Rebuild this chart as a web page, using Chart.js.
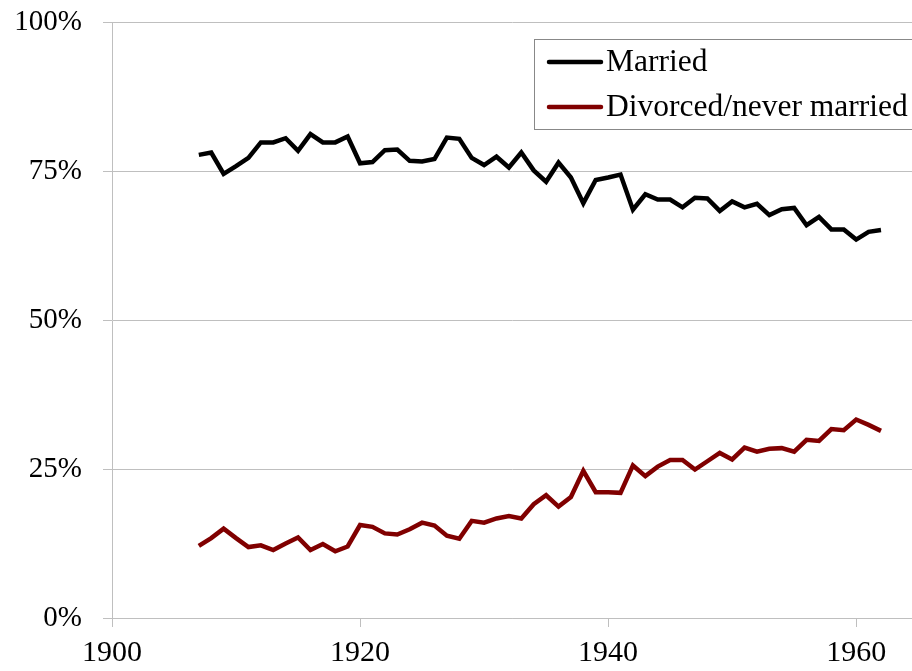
<!DOCTYPE html>
<html>
<head>
<meta charset="utf-8">
<script src="https://cdn.jsdelivr.net/npm/chart.js@4/dist/chart.umd.min.js"></script>
<style>
  html, body { margin: 0; padding: 0; background: #fff; }
  #chart-container { width: 912px; height: 671px; position: relative; }
</style>
</head>
<body>
<div id="chart-container"><canvas id="chart" width="912" height="671"></canvas></div>
<script>
var years = [1907, 1908, 1909, 1910, 1911, 1912, 1913, 1914, 1915, 1916,
    1917, 1918, 1919, 1920, 1921, 1922, 1923, 1924, 1925, 1926,
    1927, 1928, 1929, 1930, 1931, 1932, 1933, 1934, 1935, 1936,
    1937, 1938, 1939, 1940, 1941, 1942, 1943, 1944, 1945, 1946,
    1947, 1948, 1949, 1950, 1951, 1952, 1953, 1954, 1955, 1956,
    1957, 1958, 1959, 1960, 1961, 1962];

var married = [77.7, 78.1, 74.5, 75.8, 77.2, 79.8, 79.8, 80.5, 78.4, 81.2,
    79.8, 79.8, 80.8, 76.3, 76.5, 78.5, 78.6, 76.7, 76.6, 77.0,
    80.6, 80.4, 77.2, 76.0, 77.4, 75.6, 78.1, 75.1, 73.2, 76.4,
    73.9, 69.6, 73.5, 73.9, 74.4, 68.5, 71.1, 70.2, 70.2, 68.9,
    70.5, 70.4, 68.3, 69.9, 68.9, 69.5, 67.6, 68.6, 68.8, 65.9,
    67.3, 65.2, 65.2, 63.5, 64.8, 65.1];

var divorced = [12.1, 13.4, 15.0, 13.4, 11.9, 12.2, 11.4, 12.5, 13.5, 11.4,
    12.4, 11.2, 12.0, 15.6, 15.3, 14.2, 14.0, 14.9, 16.0, 15.5,
    13.8, 13.3, 16.3, 16.0, 16.7, 17.1, 16.7, 19.1, 20.6, 18.7,
    20.3, 24.7, 21.1, 21.1, 21.0, 25.6, 23.8, 25.4, 26.5, 26.5,
    24.9, 26.3, 27.7, 26.6, 28.6, 27.9, 28.4, 28.5, 27.9, 29.9,
    29.7, 31.7, 31.5, 33.3, 32.4, 31.4];

var seriesNames = ['Married', 'Divorced/never married'];
var seriesColors = ['#000000', '#800000'];

var serif = '"Liberation Serif", "Times New Roman", serif';

function toPoints(values) {
    return years.map(function(yr, i) { return { x: yr, y: values[i] }; });
}

// legend box drawn by hand (Excel-style, with a border)
var boxLegend = {
    id: 'boxLegend',
    afterDraw: function(chart) {
        var ctx = chart.ctx;
        ctx.save();
        ctx.fillStyle = '#ffffff';
        ctx.fillRect(534.5, 39.5, 400, 90);
        ctx.strokeStyle = '#888888';
        ctx.lineWidth = 1;
        ctx.strokeRect(534.5, 39.5, 400, 90);
        ctx.font = '31.5px ' + serif;
        ctx.textBaseline = 'middle';
        ctx.textAlign = 'left';
        var rows = [62, 107];
        for (var i = 0; i < seriesNames.length; i++) {
            ctx.strokeStyle = seriesColors[i];
            ctx.lineWidth = 4.5;
            ctx.lineCap = 'round';
            ctx.beginPath();
            ctx.moveTo(549, rows[i]);
            ctx.lineTo(601, rows[i]);
            ctx.stroke();
            ctx.fillStyle = '#000';
            ctx.fillText(seriesNames[i], 606, rows[i] + 1);
        }
        ctx.restore();
    }
};

var ctx = document.getElementById('chart').getContext('2d');
var chart = new Chart(ctx, {
    type: 'line',
    data: {
        datasets: [{
            label: seriesNames[0],
            data: toPoints(married),
            borderColor: seriesColors[0],
            borderWidth: 4.5,
            pointRadius: 0,
            tension: 0,
            fill: false
        }, {
            label: seriesNames[1],
            data: toPoints(divorced),
            borderColor: seriesColors[1],
            borderWidth: 4.5,
            pointRadius: 0,
            tension: 0,
            fill: false
        }]
    },
    options: {
        responsive: false,
        animation: false,
        layout: { padding: { top: 22, right: 0, left: 0, bottom: 0 } },
        plugins: {
            legend: { display: false },
            tooltip: { enabled: false }
        },
        scales: {
            x: {
                type: 'linear',
                min: 1900,
                max: 1964.5,
                afterFit: function(scale) {
                    scale.height = 53;
                    scale.paddingLeft = 0;
                    scale.paddingRight = 0;
                },
                border: { color: '#bfbfbf', width: 1 },
                grid: {
                    drawOnChartArea: false,
                    drawTicks: true,
                    tickLength: 9,
                    color: '#bfbfbf'
                },
                ticks: {
                    stepSize: 20,
                    includeBounds: false,
                    maxRotation: 0,
                    padding: 8,
                    color: '#000',
                    font: { family: serif, size: 30 },
                    callback: function(v) { return String(v); }
                }
            },
            y: {
                min: 0,
                max: 100,
                afterFit: function(scale) {
                    scale.width = 112;
                    scale.paddingTop = 0;
                    scale.paddingBottom = 0;
                },
                border: { color: '#bfbfbf', width: 1 },
                grid: {
                    drawTicks: true,
                    tickLength: 9,
                    color: '#bfbfbf'
                },
                ticks: {
                    stepSize: 25,
                    padding: 21,
                    color: '#000',
                    font: { family: serif, size: 29 },
                    callback: function(v) { return v + '%'; }
                }
            }
        }
    },
    plugins: [boxLegend]
});
</script>
</body>
</html>
